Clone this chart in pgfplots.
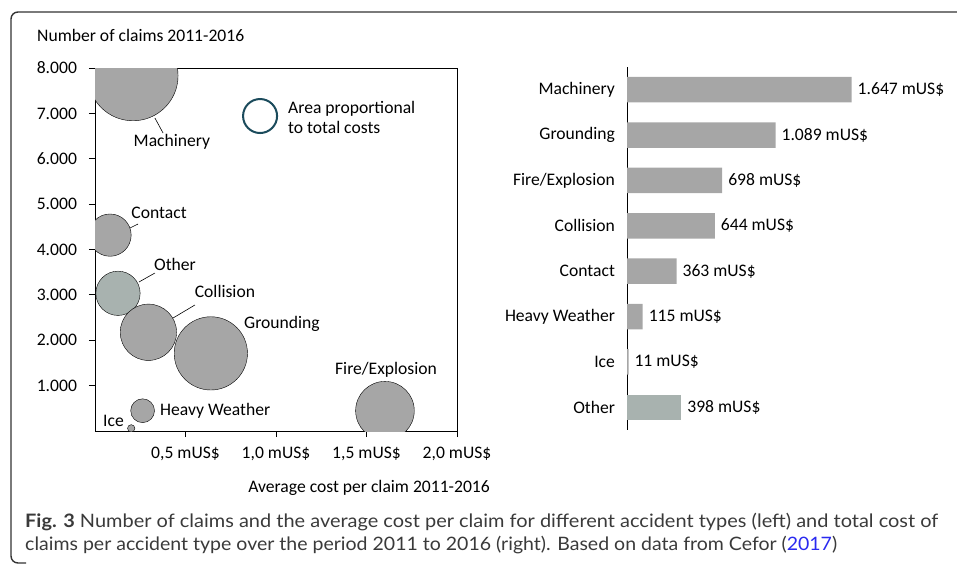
\documentclass[border=0pt]{standalone}
\usepackage{pgfplots}
\pgfplotsset{compat=1.18}
\usepackage{pgfplotstable}
\usepackage{graphicx}
\usepackage{fontspec}
\setmainfont{Carlito}
\newfontfamily\capfont{Lato}
\definecolor{bubblegray}{HTML}{A6A6A6}
\definecolor{othergray}{HTML}{A8B2AF}
\definecolor{legteal}{HTML}{1B4B5C}
\definecolor{framecol}{HTML}{333333}
\definecolor{captext}{HTML}{3A3A3A}
\definecolor{linkblue}{HTML}{2A2AF0}

\pgfplotstableread{
x      y     total
0.210  7830  1647
0.640  1711  1089
1.602  447   698
0.295  2176  644
0.083  4317  363
0.263  447   115
0.200  59    11
}\bubbles

\pgfplotstableread{
x      y     total
0.127  3035  398
}\otherbubble

\pgfplotstableread{
idx cost
0   1647
1   1089
2   698
3   644
4   363
5   115
6   11
}\bars

\pgfplotstableread{
idx cost
7   398
}\otherbar

\begin{document}
\fontsize{17.6pt}{21pt}\selectfont
\begin{tikzpicture}
\useasboundingbox (0pt,0pt) rectangle (957pt,-565pt);
% frame
\draw[framecol, line width=1.4pt, rounded corners=7pt]
  (957pt,-12pt) -- (11pt,-12pt) -- (11pt,-563pt) -- (26pt,-563pt);

% scatter axis
\begin{axis}[
  at={(95pt,-431pt)}, anchor=south west,
  scale only axis, width=362pt, height=363pt,
  xmin=0, xmax=2, ymin=0, ymax=8000,
  axis line style={line width=0.9pt, black},
  tick style={line width=0.9pt, black},
  tick align=outside, tick pos=left, major tick length=6pt,
  xtick={0.5,1,1.5,2},
  xticklabels={{0,5 mUS\$},{1,0 mUS\$},{1,5 mUS\$},{2,0 mUS\$}},
  ytick={1000,2000,3000,4000,5000,6000,7000,8000},
  yticklabels={1.000,2.000,3.000,4.000,5.000,6.000,7.000,8.000},
  yticklabel style={xshift=-6pt},
  xticklabel style={yshift=-4pt},
  clip marker paths=true,
]
\addplot[only marks, scatter, mark=*,
  scatter/use mapped color={draw=none, fill=othergray},
  visualization depends on={1.11*sqrt(\thisrow{total}) \as \rad},
  scatter/@pre marker code/.append style={/tikz/mark size=\rad pt},
] table[x=x, y=y] {\otherbubble};
\addplot[only marks, scatter, mark=*,
  scatter/use mapped color={draw=none, fill=bubblegray},
  visualization depends on={1.11*sqrt(\thisrow{total}) \as \rad},
  scatter/@pre marker code/.append style={/tikz/mark size=\rad pt},
] table[x=x, y=y] {\bubbles};
% legend symbol
\addplot[only marks, mark=*, mark size=17pt,
  mark options={draw=legteal, fill=white, line width=2pt}]
  coordinates {(0.912,6942)};
\node[anchor=west, align=left, inner sep=0pt, font=\linespread{0.95}\selectfont]
  at (axis cs:1.066,6920) {Area proportional\\to total costs};
% labels
\node at (axis cs:0.425,6369) {Machinery};
\draw[black, line width=0.6pt] (axis cs:0.331,6898) -- (axis cs:0.376,6568);
\node at (axis cs:0.354,4805) {Contact};
\draw[black, line width=0.6pt] (axis cs:0.193,4474) -- (axis cs:0.238,4562);
\node at (axis cs:0.442,3681) {Other};
\draw[black, line width=0.6pt] (axis cs:0.243,3284) -- (axis cs:0.331,3482);
\node at (axis cs:0.718,3086) {Collision};
\draw[black, line width=0.6pt] (axis cs:0.431,2490) -- (axis cs:0.552,2777);
\node at (axis cs:1.033,2358) {Grounding};
\node at (axis cs:1.608,1344) {Fire/Explosion};
\node[anchor=west, inner sep=0pt] at (axis cs:0.359,441) {Heavy Weather};
\node at (axis cs:0.102,220) {Ice};
\end{axis}

% bar axis
\begin{axis}[
  at={(627pt,-430pt)}, anchor=south west,
  scale only axis, width=272.8pt, height=363pt,
  xbar, bar width=25.5pt, bar shift=0pt,
  xmin=0, xmax=2000, ymin=-0.5, ymax=7.5, y dir=reverse,
  hide x axis, axis y line*=left,
  axis line style={line width=0.9pt, black},
  ytick={0,1,2,3,4,5,6,7},
  yticklabels={Machinery,Grounding,Fire/Explosion,Collision,Contact,Heavy Weather,Ice,Other},
  major tick length=0pt,
  yticklabel style={xshift=-6pt},
  point meta=x,
  nodes near coords={\pgfmathprintnumber{\pgfplotspointmeta}~mUS\$},
  nodes near coords align={horizontal},
  /pgf/number format/assume math mode=true,
  /pgf/number format/1000 sep={.},
  clip=false,
]
\addplot[fill=bubblegray, draw=none] table[x=cost, y=idx] {\bars};
\addplot[fill=othergray, draw=none] table[x=cost, y=idx] {\otherbar};
\end{axis}

% axis titles
\node[anchor=base west, inner sep=0pt] at (37pt,-41pt) {Number of claims 2011-2016};
\node[anchor=base, inner sep=0pt] at (369pt,-492pt) {Average cost per claim 2011-2016};

% caption
\node[anchor=base west, inner sep=0pt, text=captext] at (25pt,-527pt)
  {\resizebox{913pt}{\height}{\capfont\fontsize{18.5pt}{22pt}\selectfont\textbf{Fig. 3} Number of claims and the average cost per claim for different accident types (left) and total cost of}};
\node[anchor=base west, inner sep=0pt, text=captext] at (25pt,-550pt)
  {\resizebox{812pt}{\height}{\capfont\fontsize{18.5pt}{22pt}\selectfont claims per accident type over the period 2011 to 2016 (right). Based on data from Cefor ({\color{linkblue}2017})}};
\end{tikzpicture}
\end{document}
